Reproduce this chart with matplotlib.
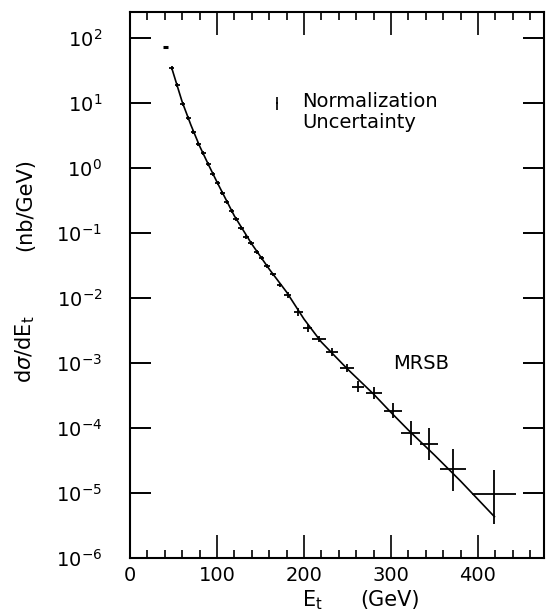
import numpy as np
import matplotlib
matplotlib.use("Agg")
import matplotlib.pyplot as plt

plt.rcParams['font.family'] = ['DejaVu Sans']
plt.rcParams['mathtext.fontset'] = 'dejavusans'

# Measured inclusive jet cross section d(sigma)/dEt  [nb/GeV]
et = [47.9, 54.4, 60.6, 67.0, 72.8, 78.5, 84.3, 90.0, 95.1, 100.8,
      106.1, 111.1, 116.9, 121.8, 127.6, 133.3, 139.1, 145.6, 151.4, 157.5,
      164.3, 172.3, 181.6, 193.4, 204.3, 217.2, 231.8, 249.1, 262.4, 280.5,
      302.6, 322.6, 344.0, 371.6, 418.7]
xsec = [34.2, 18.9, 9.66, 5.82, 3.58, 2.34, 1.68, 1.14, 0.80, 0.582,
        0.417, 0.303, 0.218, 0.163, 0.118, 0.0877, 0.0694, 0.0516, 0.0408, 0.0311,
        0.0230, 0.0157, 0.01125, 0.00615, 0.00342, 0.00234, 0.00149, 8.29e-4, 4.32e-4, 3.49e-4,
        1.85e-4, 8.28e-5, 5.68e-5, 2.32e-5, 9.66e-6]
# half bin widths [GeV]
et_halfwidth = [3] * 22 + [4, 5, 5, 8, 7, 8, 7, 9, 10, 11, 10, 15, 25]
# statistical errors in decades (up / down)
err_up_dex = [0.03] * 22 + [0.045, 0.06, 0.06, 0.05, 0.06, 0.06, 0.08, 0.09,
                            0.115, 0.185, 0.25, 0.31, 0.37]
err_dn_dex = [0.03] * 22 + [0.045, 0.06, 0.06, 0.05, 0.06, 0.06, 0.08, 0.09,
                            0.115, 0.185, 0.25, 0.34, 0.46]

# lowest bin, shown without vertical error
low_et = [41.0]
low_xsec = [73.0]
low_halfwidth = [3.0]

# MRSB QCD prediction
theory_et = [48, 54, 60, 70, 80, 90, 100, 120, 140, 160, 180, 200, 220, 250,
             280, 300, 320, 350, 380, 400, 419]
theory_xsec = [34.5, 18.9, 10.4, 4.59, 2.18, 1.14, 0.609, 0.183, 0.0677, 0.0279,
               0.01236, 0.00475, 0.0021, 8.09e-4, 3.33e-4, 1.74e-4, 9.31e-5,
               3.84e-5, 1.53e-5, 8.0e-6, 4.32e-6]

# normalization uncertainty marker
norm_et = [169.0]
norm_val = [10.0]

W, H = 549, 613
fig = plt.figure(figsize=(W / 100, H / 100), dpi=100)
ax = fig.add_axes([130 / W, 1 - 558 / H, (544 - 130) / W, (558 - 12) / H])

ax.set_yscale('log')
ax.set_xlim(0, 476)
ax.set_ylim(1e-6, 10 ** 2.4)

ax.plot(theory_et, theory_xsec, color='black', lw=1.2)

y = np.array(xsec)
yerr = np.vstack([y * (1 - 10 ** -np.array(err_dn_dex)),
                  y * (10 ** np.array(err_up_dex) - 1)])
ax.errorbar(et, xsec, xerr=et_halfwidth, yerr=yerr, fmt='none',
            ecolor='black', elinewidth=1.3, capsize=0)
ax.errorbar(low_et, low_xsec, xerr=low_halfwidth, fmt='none',
            ecolor='black', elinewidth=2.2, capsize=0)

# ticks
ax.set_xticks([0, 100, 200, 300, 400])
ax.set_xticks(np.arange(0, 477, 20), minor=True)
ax.set_xticklabels(['0', '100', '200', '300', '400'])
decades = list(range(-6, 3))
ax.set_yticks([10.0 ** d for d in decades])
ax.set_yticklabels([r'$10^{%d}$' % d for d in decades])
ax.yaxis.set_minor_locator(matplotlib.ticker.NullLocator())
ax.tick_params(axis='x', which='major', direction='in', length=16.5, width=1.2,
               top=True, labelsize=14, pad=6)
ax.tick_params(axis='x', which='minor', direction='in', length=6, width=1.2, top=True)
ax.tick_params(axis='y', which='major', direction='in', length=15, width=1.4,
               right=True, labelsize=14, pad=20)
for s in ax.spines.values():
    s.set_linewidth(1.5)

# annotations
ax.text(302, 10 ** ((168 - 363) / 65), 'MRSB', fontsize=14, ha='left', va='center')
nv = np.array(norm_val)
ax.errorbar(norm_et, norm_val, xerr=[1.2],
            yerr=[nv * (1 - 10 ** -0.1), nv * (10 ** 0.1 - 1)], fmt='none',
            ecolor='black', elinewidth=1.2, capsize=0)
fig.text(302 / W, 1 - 112 / H, 'Normalization\nUncertainty', fontsize=14,
         ha='left', va='center', linespacing=1.15)

fig.text(302 / W, 1 - 600 / H, r'E$_{\rm t}$', fontsize=15, ha='left', va='center')
fig.text(360 / W, 1 - 600 / H, '(GeV)', fontsize=15, ha='left', va='center')
fig.text(25 / W, 1 - 205 / H, '(nb/GeV)', fontsize=15,
         rotation=90, ha='center', va='center')
fig.text(25 / W, 1 - 349 / H, r'd$\sigma$/dE$_{\rm t}$', fontsize=15,
         rotation=90, ha='center', va='center')

fig.savefig('out.png', dpi=100)
